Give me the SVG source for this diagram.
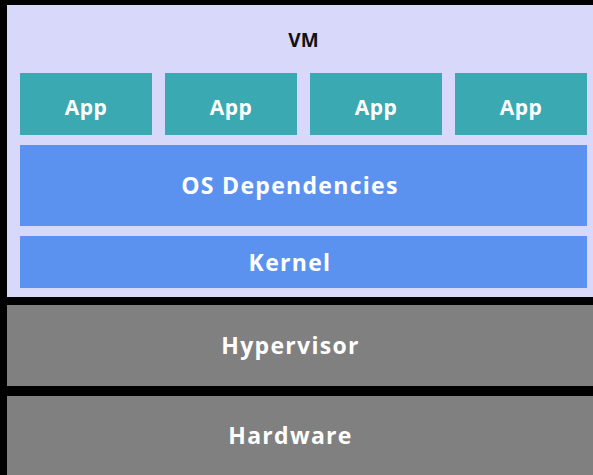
<svg xmlns="http://www.w3.org/2000/svg" width="593" height="475" viewBox="0 0 593 475">
<style>
.t{font-family:"Open Sans","Noto Sans","Liberation Sans",sans-serif;font-weight:bold;fill:#ffffff;text-anchor:middle}
.big{font-size:23px;letter-spacing:1.3px}
.sm{font-size:21px;letter-spacing:0.5px}
.app{fill:#3aa9b2}
.blue{fill:#5b92f0}
.gray{fill:#808080}
</style>
<rect x="0" y="0" width="593" height="475" fill="#000000"/>
<g id="vm">
<rect x="7" y="5" width="586" height="292" fill="#d8d8fb"/>
<text x="303.5" y="47" class="t" style="fill:#111111;font-size:19px">VM</text>
</g>
<g id="app1"><rect class="app" x="20" y="73" width="132" height="62"/><text class="t sm" x="86" y="115">App</text></g>
<g id="app2"><rect class="app" x="165" y="73" width="132" height="62"/><text class="t sm" x="231" y="115">App</text></g>
<g id="app3"><rect class="app" x="310" y="73" width="132" height="62"/><text class="t sm" x="376" y="115">App</text></g>
<g id="app4"><rect class="app" x="455" y="73" width="132" height="62"/><text class="t sm" x="521" y="115">App</text></g>
<g id="os"><rect class="blue" x="20" y="145" width="567" height="81"/><text class="t big" x="290" y="194">OS Dependencies</text></g>
<g id="kernel"><rect class="blue" x="20" y="236" width="567" height="52"/><text class="t big" x="290" y="271">Kernel</text></g>
<g id="hypervisor"><rect class="gray" x="7" y="305" width="586" height="81"/><text class="t big" x="290.5" y="354">Hypervisor</text></g>
<g id="hardware"><rect class="gray" x="7" y="396" width="586" height="79"/><text class="t big" x="290.5" y="444">Hardware</text></g>
<g id="connectors"/>
</svg>
